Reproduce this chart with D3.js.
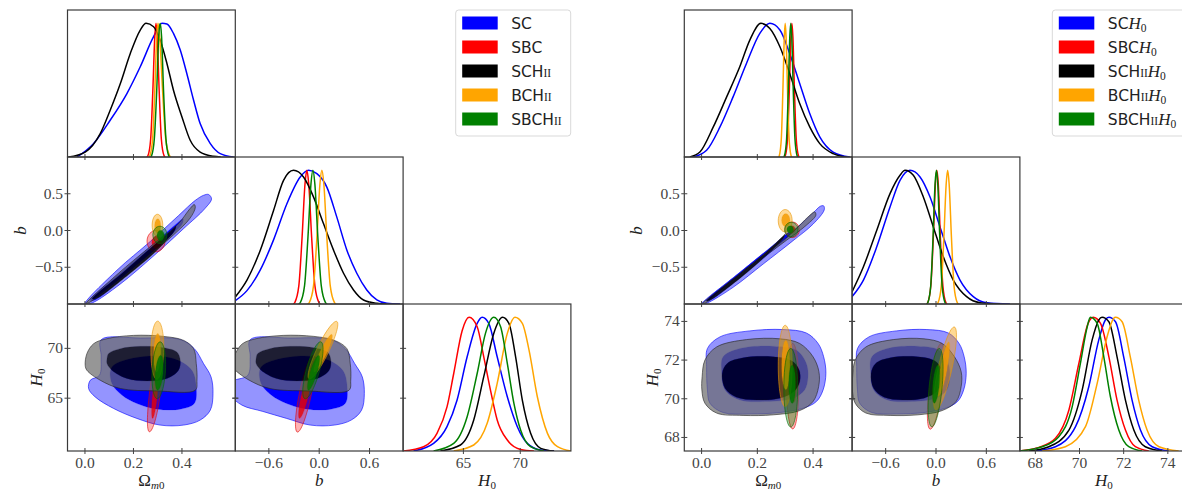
<!DOCTYPE html>
<meta charset="utf-8">
<style>
body { margin: 0; background: #fff; }
svg { display: block; }
</style>
<body>
<script src="https://cdn.jsdelivr.net/npm/d3@7"></script>
<script>

// ---------- series ----------
var seriesColors = ["#0000ff", "#ff0000", "#000000", "#ffa500", "#008000"];
var legendBase = ["SC", "SBC", "SCH", "BCH", "SBCH"];
var legendNumeral = ["", "", "II", "II", "II"];

// ---------- axes ----------
var omTicks = [0.0, 0.2, 0.4];
var bTicksX = [-0.6, 0.0, 0.6];
var bTicksY = [-0.5, 0.0, 0.5];
var hTicksLeft = [65, 70];
var hTicksRight = [68, 70, 72, 74];

var leftOmRange = [-0.072, 0.62];
var rightOmRange = [-0.062, 0.54];
var bRange = [-1, 1];
var leftHRange = [59.7, 74.45];
var rightHRange = [67.3, 74.9];

// ---------- 1D marginals (value, relative density), order SC, SBC, SCHII, BCHII, SBCHII ----------
var leftOm1d = [
  [[-0.033,0],[0.035,0.1],[0.104,0.275],[0.173,0.475],[0.228,0.675],[0.283,0.9],[0.318,1],[0.338,0.995],[0.365,0.925],[0.393,0.8],[0.42,0.625],[0.448,0.425],[0.475,0.25],[0.517,0.1],[0.558,0.025],[0.613,0]],
  [[0.255,0],[0.26,0.011],[0.271,0.135],[0.28,0.5],[0.288,0.9],[0.293,1],[0.298,0.9],[0.306,0.5],[0.315,0.135],[0.326,0.011],[0.331,0]],
  [[-0.068,0],[0.001,0.037],[0.063,0.175],[0.104,0.35],[0.146,0.55],[0.187,0.775],[0.228,0.95],[0.252,1],[0.283,0.975],[0.31,0.875],[0.338,0.7],[0.365,0.5],[0.4,0.3],[0.434,0.125],[0.475,0.037],[0.53,0.005],[0.56,0]],
  [[0.265,0],[0.268,0.011],[0.279,0.135],[0.288,0.5],[0.296,0.9],[0.301,1],[0.308,0.9],[0.32,0.5],[0.333,0.135],[0.349,0.011],[0.355,0]],
  [[0.271,0],[0.275,0.011],[0.286,0.135],[0.296,0.5],[0.304,0.9],[0.31,1],[0.316,0.9],[0.324,0.5],[0.334,0.135],[0.345,0.011],[0.349,0]]
];
var leftB1d = [
  [[-1,0.025],[-0.861,0.1],[-0.702,0.255],[-0.544,0.48],[-0.385,0.75],[-0.226,0.95],[-0.127,1],[-0.028,0.975],[0.091,0.875],[0.21,0.65],[0.33,0.403],[0.448,0.23],[0.567,0.105],[0.687,0.03],[0.806,0.005],[0.964,0]],
  [[-0.31,0],[-0.291,0.011],[-0.243,0.135],[-0.204,0.5],[-0.169,0.9],[-0.147,1],[-0.125,0.9],[-0.09,0.5],[-0.051,0.135],[-0.003,0.011],[0.016,0]],
  [[-1,0.053],[-0.861,0.179],[-0.702,0.403],[-0.544,0.7],[-0.425,0.925],[-0.306,1],[-0.187,0.95],[-0.067,0.8],[0.052,0.6],[0.171,0.403],[0.29,0.23],[0.409,0.105],[0.528,0.03],[0.687,0.005],[0.8,0]],
  [[-0.138,0],[-0.118,0.011],[-0.068,0.135],[-0.027,0.5],[0.009,0.9],[0.032,1],[0.055,0.9],[0.091,0.5],[0.132,0.135],[0.182,0.011],[0.202,0]],
  [[-0.245,0],[-0.225,0.011],[-0.175,0.135],[-0.134,0.5],[-0.098,0.9],[-0.075,1],[-0.052,0.9],[-0.016,0.5],[0.025,0.135],[0.075,0.011],[0.095,0]]
];
var leftH1d = [
  [[60.61,0],[62.38,0.057],[63.56,0.182],[64.44,0.38],[65.33,0.705],[66.21,0.955],[66.65,1],[67.23,0.955],[67.97,0.705],[68.86,0.406],[69.74,0.182],[70.62,0.057],[71.8,0.007],[72.97,0]],
  [[59.73,0],[61.5,0.032],[62.68,0.132],[63.56,0.33],[64.15,0.58],[64.89,0.9],[65.5,1],[66.21,0.93],[66.79,0.705],[67.38,0.456],[67.97,0.232],[68.86,0.082],[70.03,0.012],[71.2,0]],
  [[62.97,0],[64.74,0.045],[65.91,0.232],[66.79,0.556],[67.67,0.88],[68.44,1],[69.0,0.955],[69.59,0.705],[70.18,0.381],[70.91,0.132],[71.8,0.02],[72.97,0]],
  [[64.15,0],[65.91,0.045],[67.09,0.207],[67.97,0.506],[68.86,0.88],[69.53,1],[70.18,0.955],[70.77,0.755],[71.5,0.406],[72.39,0.132],[73.27,0.032],[74.45,0]],
  [[62.38,0],[64.15,0.057],[65.33,0.256],[66.21,0.58],[66.94,0.88],[67.67,1],[68.27,0.93],[68.86,0.656],[69.44,0.357],[70.03,0.157],[70.91,0.032],[72.09,0]]
];
var rightOm1d = [
  [[-0.03,0],[0.018,0.05],[0.066,0.225],[0.113,0.45],[0.161,0.7],[0.209,0.925],[0.245,1],[0.281,0.95],[0.316,0.775],[0.352,0.55],[0.388,0.325],[0.424,0.15],[0.472,0.037],[0.532,0]],
  [[0.298,0],[0.3006,0.011],[0.3084,0.135],[0.3148,0.5],[0.3204,0.9],[0.324,1],[0.3276,0.9],[0.3332,0.5],[0.3396,0.135],[0.3474,0.011],[0.35,0]],
  [[-0.042,0],[-0.006,0.037],[0.042,0.225],[0.09,0.45],[0.137,0.675],[0.173,0.875],[0.213,1],[0.245,0.962],[0.281,0.825],[0.316,0.625],[0.352,0.4],[0.388,0.225],[0.424,0.1],[0.472,0.025],[0.52,0]],
  [[0.277,0],[0.279,0.011],[0.286,0.135],[0.2917,0.5],[0.2968,0.9],[0.3,1],[0.3032,0.9],[0.3083,0.5],[0.314,0.135],[0.321,0.011],[0.323,0]],
  [[0.295,0],[0.2975,0.011],[0.305,0.135],[0.3111,0.5],[0.3165,0.9],[0.32,1],[0.3235,0.9],[0.3289,0.5],[0.335,0.135],[0.3425,0.011],[0.345,0]]
];
var rightB1d = [
  [[-1,0.055],[-0.865,0.179],[-0.706,0.428],[-0.548,0.726],[-0.429,0.925],[-0.31,1],[-0.19,0.95],[-0.071,0.8],[0.048,0.577],[0.167,0.353],[0.286,0.179],[0.444,0.055],[0.603,0.01],[0.881,0]],
  [[-0.112,0],[-0.098,0.011],[-0.062,0.135],[-0.032,0.5],[-0.007,0.9],[0.01,1],[0.027,0.9],[0.052,0.5],[0.082,0.135],[0.118,0.011],[0.132,0]],
  [[-1,0.092],[-0.865,0.279],[-0.706,0.552],[-0.548,0.826],[-0.429,0.963],[-0.369,1],[-0.27,0.963],[-0.151,0.8],[-0.032,0.577],[0.087,0.353],[0.206,0.179],[0.365,0.055],[0.524,0.01],[0.762,0]],
  [[0.01,0],[0.025,0.011],[0.063,0.135],[0.094,0.5],[0.1215,0.9],[0.139,1],[0.1565,0.9],[0.184,0.5],[0.215,0.135],[0.253,0.011],[0.268,0]],
  [[-0.11,0],[-0.097,0.011],[-0.063,0.135],[-0.035,0.5],[-0.011,0.9],[0.005,1],[0.021,0.9],[0.045,0.5],[0.073,0.135],[0.107,0.011],[0.12,0]]
];
var rightH1d = [
  [[68.0,0],[68.91,0.032],[69.82,0.182],[70.42,0.481],[70.87,0.83],[71.17,0.98],[71.33,1],[71.63,0.967],[72.0,0.705],[72.38,0.381],[72.76,0.157],[73.29,0.032],[74.04,0]],
  [[67.25,0],[68.16,0.027],[68.91,0.095],[69.52,0.307],[69.97,0.655],[70.39,0.955],[70.62,1],[70.95,0.955],[71.33,0.705],[71.7,0.381],[72.08,0.157],[72.53,0.032],[73.14,0]],
  [[67.71,0],[68.61,0.032],[69.52,0.157],[70.12,0.456],[70.57,0.83],[70.87,0.98],[71.02,1],[71.33,0.967],[71.7,0.705],[72.08,0.381],[72.46,0.157],[72.98,0.032],[73.74,0]],
  [[68.31,0],[69.36,0.032],[70.27,0.182],[70.8,0.506],[71.25,0.855],[71.55,0.993],[71.63,1],[71.93,0.967],[72.3,0.705],[72.68,0.381],[73.06,0.157],[73.6,0.032],[74.49,0]],
  [[67.25,0],[68.31,0.032],[69.06,0.107],[69.67,0.332],[70.04,0.655],[70.35,0.93],[70.49,1],[70.8,0.955],[71.1,0.705],[71.4,0.406],[71.78,0.157],[72.23,0.032],[72.83,0]]
];

// ---------- 2D contours: [95% outline, 68% outline] per series ----------
var leftOmB = [
  [[[0.0,-1.0],[0.132,-0.54],[0.269,-0.15],[0.385,0.2],[0.455,0.41],[0.49,0.48],[0.51,0.49],[0.522,0.43],[0.495,0.3],[0.405,0.02],[0.285,-0.34],[0.145,-0.73],[0.03,-0.985]],
   [[0.02,-0.95],[0.16,-0.53],[0.29,-0.16],[0.38,0.1],[0.405,0.16],[0.4,0.08],[0.31,-0.2],[0.18,-0.59],[0.04,-0.95]]],
  [[[0.293,0.0],[0.33,-0.145],[0.293,-0.29],[0.256,-0.145]],
   [[0.296,-0.07],[0.316,-0.16],[0.296,-0.25],[0.276,-0.16]]],
  [[[0.005,-0.992],[0.132,-0.6],[0.269,-0.22],[0.379,0.07],[0.434,0.3],[0.451,0.353],[0.455,0.312],[0.434,0.17],[0.365,-0.06],[0.256,-0.36],[0.132,-0.7],[0.02,-0.975]],
   [[0.03,-0.93],[0.16,-0.56],[0.27,-0.24],[0.355,0.0],[0.375,0.06],[0.37,0.0],[0.3,-0.26],[0.18,-0.6],[0.045,-0.93]]],
  [[[0.299,0.221],[0.321,0.072],[0.299,-0.077],[0.277,0.072]],
   [[0.3,0.16],[0.313,0.06],[0.3,-0.04],[0.287,0.06]]],
  [[[0.309,0.058],[0.338,-0.06],[0.309,-0.178],[0.28,-0.06]],
   [[0.312,0.004],[0.327,-0.068],[0.312,-0.14],[0.297,-0.068]]]
];
var leftOmH = [
  [[[0.067,70.87],[0.228,71.03],[0.393,70.87],[0.451,69.97],[0.489,68.47],[0.52,67.13],[0.528,65.47],[0.517,63.8],[0.475,62.8],[0.407,62.3],[0.31,62.3],[0.214,62.97],[0.118,63.97],[0.042,65.13],[0.015,65.97],[0.022,66.8],[0.06,67.3],[0.067,69.13]],
   [[0.111,68.13],[0.228,69.13],[0.365,68.97],[0.441,67.8],[0.459,66.13],[0.451,64.47],[0.393,63.9],[0.297,63.9],[0.214,64.47],[0.153,65.3],[0.111,66.47]]],
  [[[0.303,69.3],[0.31,65.4],[0.266,61.63],[0.266,65.53]],
   [[0.299,67.8],[0.299,65.35],[0.279,62.97],[0.279,65.43]]],
  [[[0.001,68.3],[0.008,69.47],[0.036,70.47],[0.091,70.97],[0.2,71.3],[0.324,71.2],[0.407,70.8],[0.448,69.97],[0.459,68.47],[0.462,66.8],[0.455,65.8],[0.297,65.73],[0.146,65.97],[0.063,66.8],[0.008,67.8]],
   [[0.091,68.97],[0.097,69.47],[0.146,69.97],[0.228,70.2],[0.324,70.07],[0.379,69.63],[0.393,68.8],[0.386,67.8],[0.338,66.97],[0.256,66.73],[0.173,66.97],[0.111,67.8],[0.091,68.47]]],
  [[[0.3,72.73],[0.325,69.9],[0.296,66.9],[0.272,69.9]],
   [[0.3,71.5],[0.313,69.6],[0.296,67.6],[0.283,69.6]]],
  [[[0.31,70.65],[0.332,67.8],[0.298,64.95],[0.277,67.8]],
   [[0.312,69.3],[0.322,67.5],[0.3,65.8],[0.29,67.5]]]
];
var leftBH = [
  [[[-0.822,70.87],[-0.347,71.03],[0.139,70.87],[0.31,69.97],[0.423,68.47],[0.514,67.13],[0.538,65.47],[0.505,63.8],[0.381,62.8],[0.181,62.3],[-0.106,62.3],[-0.389,62.97],[-0.672,63.67],[-0.92,64.3],[-1.05,65.3],[-1.05,66.6],[-0.85,67.3],[-0.822,69.13]],
   [[-0.693,68.13],[-0.347,69.13],[0.057,68.97],[0.281,67.8],[0.334,66.13],[0.31,64.47],[0.139,63.9],[-0.144,63.9],[-0.389,64.47],[-0.569,65.3],[-0.693,66.47]]],
  [[[-0.07,69.3],[-0.095,65.33],[-0.26,61.6],[-0.235,65.57]],
   [[-0.1,67.8],[-0.126,65.31],[-0.235,62.97],[-0.209,65.45]]],
  [[[-1.05,68.3],[-1.0,69.47],[-0.914,70.47],[-0.752,70.97],[-0.43,71.3],[-0.064,71.2],[0.181,70.8],[0.33,69.97],[0.37,68.47],[0.376,66.8],[0.355,65.8],[-0.144,65.73],[-0.589,65.97],[-0.834,66.8],[-1.0,67.8]],
   [[-0.752,68.97],[-0.734,69.47],[-0.589,69.97],[-0.347,70.2],[-0.064,70.07],[0.098,69.63],[0.139,68.8],[0.119,67.8],[-0.023,66.97],[-0.265,66.73],[-0.51,66.97],[-0.693,67.8],[-0.752,68.47]]],
  [[[0.21,72.7],[0.108,69.57],[-0.12,66.95],[-0.02,70.09]],
   [[0.152,71.4],[0.084,69.35],[-0.06,67.6],[0.008,69.65]]],
  [[[0.02,70.65],[0.0,67.62],[-0.17,64.95],[-0.15,67.98]],
   [[-0.005,69.3],[-0.028,67.45],[-0.13,65.8],[-0.108,67.65]]]
];
var rightOmB = [
  [[[0.0,-1.0],[0.113,-0.645],[0.233,-0.283],[0.34,0.034],[0.4,0.238],[0.426,0.33],[0.438,0.335],[0.44,0.28],[0.4,0.087],[0.328,-0.139],[0.221,-0.456],[0.113,-0.773],[0.018,-0.99]],
   [[0.015,-0.96],[0.14,-0.56],[0.25,-0.22],[0.31,-0.03],[0.323,0.0],[0.318,-0.06],[0.25,-0.29],[0.14,-0.64],[0.03,-0.955]]],
  [[[0.325,0.116],[0.351,0.01],[0.325,-0.096],[0.299,0.01]],
   [[0.324,0.065],[0.337,0.01],[0.324,-0.045],[0.311,0.01]]],
  [[[0.004,-0.992],[0.113,-0.666],[0.233,-0.313],[0.328,-0.019],[0.382,0.185],[0.406,0.253],[0.41,0.208],[0.376,0.072],[0.305,-0.132],[0.209,-0.404],[0.101,-0.72],[0.015,-0.984]],
   [[0.018,-0.957],[0.137,-0.584],[0.233,-0.29],[0.287,-0.095],[0.299,-0.05],[0.293,-0.109],[0.233,-0.336],[0.137,-0.652],[0.03,-0.947]]],
  [[[0.3,0.285],[0.325,0.133],[0.3,-0.019],[0.275,0.133]],
   [[0.302,0.23],[0.317,0.14],[0.302,0.05],[0.287,0.14]]],
  [[[0.322,0.112],[0.346,0.012],[0.322,-0.088],[0.298,0.012]],
   [[0.318,0.063],[0.33,0.013],[0.318,-0.037],[0.306,0.013]]]
];
var rightOmH = [
  [[[0.021,72.6],[0.066,73.2],[0.173,73.51],[0.292,73.58],[0.376,73.4],[0.418,72.86],[0.438,72.17],[0.446,71.32],[0.436,70.46],[0.412,69.86],[0.364,69.51],[0.281,69.29],[0.173,69.22],[0.077,69.29],[0.03,69.77],[0.021,70.46],[0.018,71.66]],
   [[0.077,72.17],[0.137,72.6],[0.257,72.72],[0.341,72.51],[0.376,71.83],[0.382,71.14],[0.37,70.46],[0.328,70.03],[0.233,69.86],[0.137,69.94],[0.084,70.46],[0.072,71.32]]],
  [[[0.327,72.86],[0.349,70.65],[0.327,68.44],[0.305,70.65]],
   [[0.33,71.8],[0.343,70.8],[0.33,69.8],[0.317,70.8]]],
  [[[0.002,71.14],[0.012,72.0],[0.054,72.68],[0.161,73.06],[0.281,73.1],[0.352,72.86],[0.4,72.17],[0.421,71.4],[0.42,70.63],[0.4,69.86],[0.352,69.39],[0.257,69.17],[0.149,69.14],[0.054,69.26],[0.012,69.77],[0.001,70.46]],
   [[0.074,71.32],[0.092,71.83],[0.149,72.12],[0.257,72.17],[0.323,71.96],[0.35,71.49],[0.352,70.88],[0.331,70.37],[0.281,70.03],[0.197,69.94],[0.125,70.08],[0.084,70.54]]],
  [[[0.3,73.8],[0.325,71.7],[0.3,69.6],[0.275,71.7]],
   [[0.302,73.03],[0.317,71.75],[0.302,70.47],[0.287,71.75]]],
  [[[0.32,72.6],[0.345,70.57],[0.32,68.54],[0.295,70.57]],
   [[0.325,71.74],[0.3375,70.75],[0.325,69.76],[0.3125,70.75]]]
];
var rightBH = [
  [[[-0.936,72.6],[-0.799,73.2],[-0.472,73.51],[-0.109,73.58],[0.147,73.4],[0.275,72.86],[0.336,72.17],[0.36,71.32],[0.33,70.46],[0.257,69.86],[0.11,69.51],[-0.143,69.29],[-0.472,69.22],[-0.765,69.29],[-0.909,69.77],[-0.936,70.46],[-0.945,71.66]],
   [[-0.765,72.17],[-0.582,72.6],[-0.216,72.72],[0.04,72.51],[0.147,71.83],[0.165,71.14],[0.129,70.46],[0.0,70.03],[-0.289,69.86],[-0.582,69.94],[-0.744,70.46],[-0.78,71.32]]],
  [[[0.064,72.86],[0.077,70.61],[-0.069,68.43],[-0.077,70.69]],
   [[0.035,71.8],[0.042,70.78],[-0.03,69.8],[-0.037,70.82]]],
  [[[-0.994,71.14],[-0.963,72.0],[-0.835,72.68],[-0.509,73.06],[-0.143,73.1],[0.074,72.86],[0.22,72.17],[0.3,71.4],[0.3,70.63],[0.24,69.86],[0.074,69.39],[-0.216,69.17],[-0.546,69.14],[-0.835,69.26],[-0.963,69.77],[-0.997,70.46]],
   [[-0.774,71.32],[-0.719,71.83],[-0.546,72.12],[-0.216,72.17],[-0.015,71.96],[0.068,71.49],[0.074,70.88],[0.01,70.37],[-0.143,70.03],[-0.399,69.94],[-0.619,70.08],[-0.744,70.54]]],
  [[[0.219,73.71],[0.187,71.49],[-0.002,69.43],[0.029,71.65]],
   [[0.152,72.94],[0.131,71.46],[0.029,70.11],[0.049,71.54]]],
  [[[0.04,72.6],[0.072,70.54],[-0.05,68.55],[-0.082,70.6]],
   [[0.022,71.75],[0.04,70.74],[-0.02,69.77],[-0.038,70.78]]]
];

// ---------- styles ----------
var fillOuter = ["rgba(0,0,255,0.42)", "rgba(255,0,0,0.3)", "rgba(105,105,105,0.7)", "rgba(255,165,0,0.42)", "rgba(0,128,0,0.35)"];
var fillInner = ["#0000ff", "rgba(235,0,0,0.85)", "rgba(0,0,0,0.8)", "rgba(245,155,0,0.9)", "rgba(0,120,0,0.9)"];
var edgeColors = ["#0000ff", "#e00000", "#222222", "#e89400", "#006400"];

var PW = 167.8, PH = 147, TOP = 10;
var serif = "'Liberation Serif', 'Times New Roman', serif";
var clipCount = 0;

var svg = d3.select("body").append("svg")
    .attr("width", 1182)
    .attr("height", 491);

function tickText(p, t) {
  if (p === "h") return String(t);
  return (t < 0 ? "\u2212" : "") + Math.abs(t).toFixed(1);
}

function drawCorner(cfg) {
  var params = ["om", "b", "h"];
  var g = svg.append("g");

  function xScale(i) {
    return d3.scaleLinear().domain(cfg.range[params[i]])
      .range([cfg.left + i * PW, cfg.left + (i + 1) * PW]);
  }
  function yScale(i) {
    return d3.scaleLinear().domain(cfg.range[params[i]])
      .range([TOP + (i + 1) * PH, TOP + i * PH]);
  }
  function panel(row, col) {
    var id = "clip" + (clipCount++);
    g.append("clipPath").attr("id", id).append("rect")
      .attr("x", cfg.left + col * PW).attr("y", TOP + row * PH)
      .attr("width", PW).attr("height", PH);
    return g.append("g").attr("clip-path", "url(#" + id + ")");
  }

  // 2D contour panels: outer level is filled as a ring round the inner level
  [[1, 0, cfg.omB], [2, 0, cfg.omH], [2, 1, cfg.bH]].forEach(function (pr) {
    var x = xScale(pr[1]), y = yScale(pr[0]);
    var p = panel(pr[0], pr[1]);
    pr[2].forEach(function (levels, k) {
      var d = levels.map(function (pts) {
        var curve = pts.length === 4 ? d3.curveCardinalClosed.tension(-0.657)
                                     : d3.curveCatmullRomClosed.alpha(0.5);
        return d3.line().x(function (v) { return x(v[0]); })
                        .y(function (v) { return y(v[1]); }).curve(curve)(pts);
      });
      p.append("path").attr("d", d[0] + d[1]).attr("fill-rule", "evenodd")
        .attr("fill", fillOuter[k]);
      p.append("path").attr("d", d[1]).attr("fill", fillInner[k]);
      p.append("path").attr("d", d[0]).attr("fill", "none")
        .attr("stroke", edgeColors[k]).attr("stroke-width", 0.8).attr("stroke-opacity", 0.75);
      p.append("path").attr("d", d[1]).attr("fill", "none")
        .attr("stroke", edgeColors[k]).attr("stroke-width", 0.6).attr("stroke-opacity", 0.35);
    });
  });

  // 1D marginals on the diagonal
  [cfg.om1d, cfg.b1d, cfg.h1d].forEach(function (curves, i) {
    var x = xScale(i);
    var y = d3.scaleLinear().domain([0, 1.1]).range([TOP + (i + 1) * PH, TOP + i * PH]);
    var line = d3.line().x(function (d) { return x(d[0]); })
                        .y(function (d) { return y(d[1]); }).curve(d3.curveMonotoneX);
    panel(i, i).selectAll("path").data(curves).enter().append("path")
      .attr("d", line)
      .attr("fill", "none")
      .attr("stroke", function (d, k) { return seriesColors[k]; })
      .attr("stroke-width", 1.5);
  });

  // frames and ticks
  for (var row = 0; row < 3; row++) {
    for (var col = 0; col <= row; col++) {
      var x0 = cfg.left + col * PW, y0 = TOP + row * PH;
      g.append("rect").attr("x", x0).attr("y", y0).attr("width", PW).attr("height", PH)
        .attr("fill", "none").attr("stroke", "#3a3a3a").attr("stroke-width", 1.2);

      var xs = xScale(col);
      cfg.ticksX[params[col]].forEach(function (t) {
        g.append("line").attr("x1", xs(t)).attr("x2", xs(t))
          .attr("y1", y0 + PH - 3).attr("y2", y0 + PH + 3)
          .attr("stroke", "#444").attr("stroke-width", 1);
      });
      if (col < row) {
        var ys = yScale(row);
        cfg.ticksY[params[row]].forEach(function (t) {
          [x0, x0 + PW].forEach(function (xe) {
            g.append("line").attr("x1", xe - 3).attr("x2", xe + 3)
              .attr("y1", ys(t)).attr("y2", ys(t))
              .attr("stroke", "#444").attr("stroke-width", 1);
          });
        });
      }
    }
  }

  // tick labels
  var bottom = TOP + 3 * PH;
  params.forEach(function (p, col) {
    var xs = xScale(col);
    cfg.ticksX[p].forEach(function (t) {
      g.append("text").attr("x", xs(t)).attr("y", bottom + 16.5)
        .attr("text-anchor", "middle")
        .style("font-family", serif).style("font-size", "15.5px").attr("fill", "#444")
        .text(tickText(p, t));
    });
  });
  [1, 2].forEach(function (row) {
    var ys = yScale(row);
    cfg.ticksY[params[row]].forEach(function (t) {
      g.append("text").attr("x", cfg.left - 4.5).attr("y", ys(t) + 5)
        .attr("text-anchor", "end")
        .style("font-family", serif).style("font-size", "15.5px").attr("fill", "#444")
        .text(tickText(params[row], t));
    });
  });

  // axis labels
  function label(sel, p) {
    sel.style("font-family", serif).style("font-size", "17px").attr("fill", "#222");
    if (p === "om") {
      sel.append("tspan").text("\u03A9");
      sel.append("tspan").attr("dy", 3).style("font-size", "11px").style("font-style", "italic").text("m");
      sel.append("tspan").style("font-size", "11px").text("0");
    } else if (p === "b") {
      sel.append("tspan").style("font-style", "italic").text("b");
    } else {
      sel.append("tspan").style("font-style", "italic").text("H");
      sel.append("tspan").attr("dy", 3).style("font-size", "11px").text("0");
    }
  }
  params.forEach(function (p, col) {
    label(g.append("text").attr("x", cfg.left + (col + 0.5) * PW).attr("y", 486)
      .attr("text-anchor", "middle"), p);
  });
  label(g.append("text").attr("text-anchor", "middle")
    .attr("transform", "translate(" + (cfg.left - 42) + "," + (TOP + 1.5 * PH) + ") rotate(-90)"), "b");
  label(g.append("text").attr("text-anchor", "middle")
    .attr("transform", "translate(" + (cfg.left - 26) + "," + (TOP + 2.5 * PH) + ") rotate(-90)"), "h");

  // legend
  var lg = g.append("g");
  lg.append("rect").attr("x", cfg.legendX).attr("y", 10)
    .attr("width", cfg.legendW).attr("height", 126).attr("rx", 3)
    .attr("fill", "#fff").attr("stroke", "#d9d9d9").attr("stroke-width", 1);
  legendBase.forEach(function (name, k) {
    var cy = 23 + k * 24;
    lg.append("rect").attr("x", cfg.legendX + 6.5).attr("y", cy - 6.5)
      .attr("width", 35.5).attr("height", 13).attr("fill", seriesColors[k]);
    var t = lg.append("text").attr("x", cfg.legendX + 55.5).attr("y", cy + 5.5)
      .style("font-family", "'DejaVu Sans', sans-serif").style("font-size", "15.5px").attr("fill", "#222");
    t.append("tspan").text(name);
    if (legendNumeral[k]) {
      t.append("tspan").style("font-family", serif).style("font-size", "11.5px").text(legendNumeral[k]);
    }
    if (cfg.h0Legend) {
      t.append("tspan").style("font-family", serif).style("font-style", "italic")
        .style("font-size", "17px").text("H");
      t.append("tspan").attr("dy", 3).style("font-family", serif).style("font-size", "11.5px").text("0");
    }
  });
}

drawCorner({
  left: 67.5,
  range: { om: leftOmRange, b: bRange, h: leftHRange },
  ticksX: { om: omTicks, b: bTicksX, h: hTicksLeft },
  ticksY: { om: omTicks, b: bTicksY, h: hTicksLeft },
  om1d: leftOm1d, b1d: leftB1d, h1d: leftH1d,
  omB: leftOmB, omH: leftOmH, bH: leftBH,
  legendX: 455.7, legendW: 115, h0Legend: false
});

drawCorner({
  left: 684.3,
  range: { om: rightOmRange, b: bRange, h: rightHRange },
  ticksX: { om: omTicks, b: bTicksX, h: hTicksRight },
  ticksY: { om: omTicks, b: bTicksY, h: hTicksRight },
  om1d: rightOm1d, b1d: rightB1d, h1d: rightH1d,
  omB: rightOmB, omH: rightOmH, bH: rightBH,
  legendX: 1052.3, legendW: 150, h0Legend: true
});

</script>
